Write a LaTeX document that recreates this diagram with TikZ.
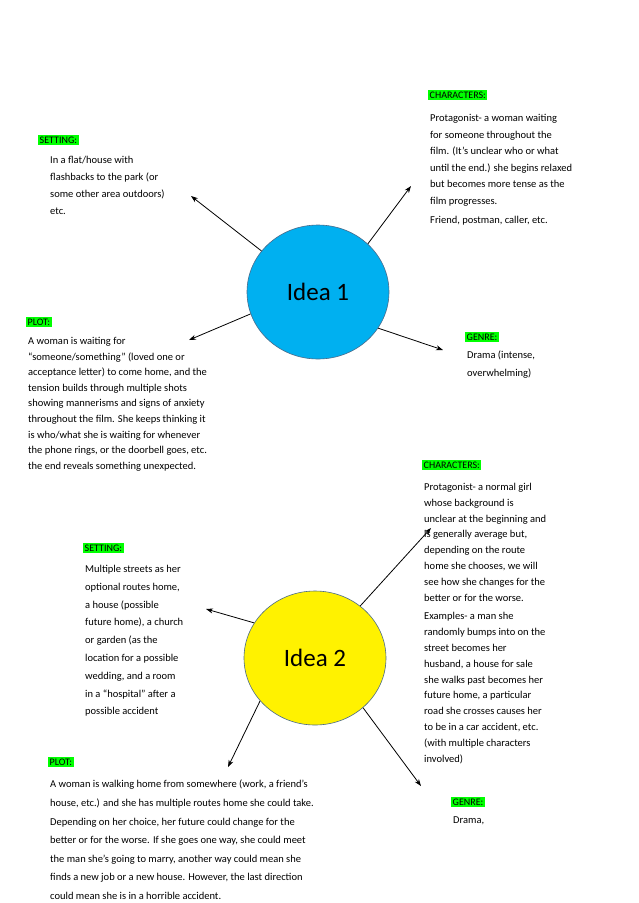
\documentclass[tikz,border=0pt]{standalone}
\usepackage{fontspec}
\setmainfont{Carlito}
\usetikzlibrary{shapes.geometric,arrows.meta}
\definecolor{hl}{HTML}{00FF00}
\definecolor{cy}{HTML}{00B0F0}
\definecolor{bd}{HTML}{4A6A8A}
\tikzset{
 lbl/.style={fill=hl,inner sep=1.5pt,anchor=west,font=\fontsize{10}{12}\selectfont},
 txt/.style={anchor=north west,align=left,inner sep=0pt},
 idea/.style={ellipse,draw=bd,line width=0.6pt,minimum width=142pt,minimum height=134pt,font=\fontsize{25}{30}\selectfont},
 arr/.style={-{Stealth[length=7pt,width=5pt]},line width=0.8pt}
}
\begin{document}
\begin{tikzpicture}[x=1pt,y=-1pt]
\useasboundingbox (0,0) rectangle (638,903);
\node[idea,fill=cy] (i1) at (318,292) {Idea 1};
\node[idea,fill=yellow] (i2) at (315,658) {Idea 2};
% Idea 1
\node[lbl] (s1l) at (38,140) {SETTING:};
\node[txt,font=\fontsize{10.5}{17}\selectfont] (s1) at (50,156) {In a flat/house with\\flashbacks to the park (or\\some other area outdoors)\\etc.};
\node[lbl] (c1l) at (428,95) {CHARACTERS:};
\node[txt,font=\fontsize{10.5}{16.6}\selectfont] (c1) at (430,114) {Protagonist- a woman waiting\\for someone throughout the\\film. (It’s unclear who or what\\until the end.) she begins relaxed\\but becomes more tense as the\\film progresses.\\[2pt]Friend, postman, caller, etc.};
\node[lbl] (p1l) at (26,322) {PLOT:};
\node[txt,font=\fontsize{10.5}{15.6}\selectfont] (p1) at (28,337) {A woman is waiting for\\“someone/something” (loved one or\\acceptance letter) to come home, and the\\tension builds through multiple shots\\showing mannerisms and signs of anxiety\\throughout the film. She keeps thinking it\\is who/what she is waiting for whenever\\the phone rings, or the doorbell goes, etc.\\the end reveals something unexpected.};
\node[lbl] (g1l) at (465,337) {GENRE:};
\node[txt,font=\fontsize{10.5}{17.5}\selectfont] (g1) at (467,351) {Drama (intense,\\overwhelming)};
% Idea 2
\node[lbl] (c2l) at (422,465) {CHARACTERS:};
\node[txt,font=\fontsize{10.5}{15.8}\selectfont] (c2) at (424,483) {Protagonist- a normal girl\\whose background is\\unclear at the beginning and\\is generally average but,\\depending on the route\\home she chooses, we will\\see how she changes for the\\better or for the worse.\\[3pt]Examples- a man she\\randomly bumps into on the\\street becomes her\\husband, a house for sale\\she walks past becomes her\\future home, a particular\\road she crosses causes her\\to be in a car accident, etc.\\(with multiple characters\\involved)};
\node[lbl] (s2l) at (83,548) {SETTING:};
\node[txt,font=\fontsize{10.5}{17.8}\selectfont] (s2) at (85,565) {Multiple streets as her\\optional routes home,\\a house (possible\\future home), a church\\or garden (as the\\location for a possible\\wedding, and a room\\in a “hospital” after a\\possible accident};
\node[lbl] (p2l) at (48,762) {PLOT:};
\node[txt,font=\fontsize{10.5}{18.6}\selectfont] (p2) at (50,780) {A woman is walking home from somewhere (work, a friend’s\\house, etc.) and she has multiple routes home she could take.\\Depending on her choice, her future could change for the\\better or for the worse. If she goes one way, she could meet\\the man she’s going to marry, another way could mean she\\finds a new job or a new house. However, the last direction\\could mean she is in a horrible accident.};
\node[lbl] (g2l) at (451,802) {GENRE:};
\node[txt,font=\fontsize{10.5}{17}\selectfont] (g2) at (453,817) {Drama,};
% arrow ends
\coordinate (as1) at (191,196);
\coordinate (ac1) at (411,186);
\coordinate (ap1) at (189,340);
\coordinate (ag1) at (443,350);
\coordinate (as2) at (206,609);
\coordinate (ac2) at (431,528);
\coordinate (ap2) at (228,767);
\coordinate (ag2) at (421,786);
\draw[arr] (i1.144) -- (as1);
\draw[arr] (i1.44) -- (ac1);
\draw[arr] (i1.198) -- (ap1);
\draw[arr] (i1.329) -- (ag1);
\draw[arr] (i2.150) -- (as2);
\draw[arr] (i2.49) -- (ac2);
\draw[arr] (i2.218) -- (ap2);
\draw[arr] (i2.314) -- (ag2);
\end{tikzpicture}
\end{document}
